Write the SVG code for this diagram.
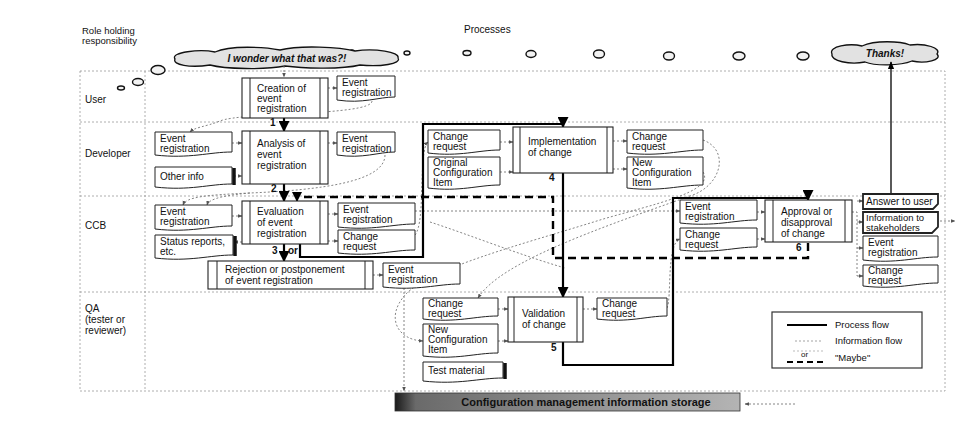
<svg xmlns="http://www.w3.org/2000/svg" width="960" height="426" viewBox="0 0 960 426">
<style>
text{font-family:"Liberation Sans",Arial,sans-serif;font-size:10px;fill:#111}
.lane{fill:none;stroke:#999;stroke-width:0.8;stroke-dasharray:2 2}
.doc{fill:#fff;stroke:#222;stroke-width:1}
.shadow{fill:none;stroke:#111;stroke-width:3.5}
.proc{fill:#fff;stroke:#222;stroke-width:1.1}
.inner{stroke:#222;stroke-width:1}
.pf{fill:none;stroke:#000;stroke-width:2.2}
.mb{fill:none;stroke:#000;stroke-width:2.4;stroke-dasharray:8 5}
.inf{fill:none;stroke:#777;stroke-width:0.9;stroke-dasharray:2 2}
.bub{fill:#f2f2f2;stroke:#111;stroke-width:1.4}
.cloud{fill:#e2e2e2;stroke:#111;stroke-width:1.3}
.it{font-style:italic;font-weight:bold}
.num{font-weight:bold}
</style>
<defs>
<marker id="ap" viewBox="0 0 10 10" refX="9" refY="5" markerWidth="5" markerHeight="5" orient="auto"><path d="M0,0 L10,5 L0,10 Z" fill="#000"/></marker>
<marker id="ai" viewBox="0 0 10 10" refX="9" refY="5" markerWidth="5" markerHeight="5" orient="auto"><path d="M0,1 L10,5 L0,9 Z" fill="#555"/></marker>
<marker id="at" viewBox="0 0 10 10" refX="9" refY="5" markerWidth="6" markerHeight="6" orient="auto"><path d="M0,1 L10,5 L0,9 Z" fill="#000"/></marker>
<linearGradient id="sg" x1="0" y1="0" x2="1" y2="0">
<stop offset="0" stop-color="#1a1a1a"/><stop offset="0.06" stop-color="#6a6a6a"/><stop offset="0.5" stop-color="#8e8e8e"/><stop offset="1" stop-color="#b4b4b4"/>
</linearGradient>
</defs>

<g id="headers">
<text x="82" y="34" style="font-size:9.5px">Role holding</text>
<text x="82" y="44" style="font-size:9.5px">responsibility</text>
<text x="464" y="33">Processes</text>
</g>

<g id="lanes">
<rect class="lane" x="80" y="71" width="865" height="320"/>
<line class="lane" x1="145" y1="71" x2="145" y2="391"/>
<line class="lane" x1="80" y1="122" x2="945" y2="122"/>
<line class="lane" x1="80" y1="196" x2="945" y2="196"/>
<line class="lane" x1="80" y1="292" x2="945" y2="292"/>
<text x="85" y="103">User</text>
<text x="85" y="157">Developer</text>
<text x="85" y="229">CCB</text>
<text x="85" y="312">QA</text>
<text x="85" y="323">(tester or</text>
<text x="85" y="334">reviewer)</text>
</g>

<g id="bubbles">
<ellipse class="bub" cx="158" cy="70" rx="7" ry="4.5"/>
<ellipse class="bub" cx="138" cy="82" rx="5.5" ry="3.5"/>
<ellipse class="bub" cx="121" cy="88" rx="3.5" ry="2"/>
<ellipse class="bub" cx="352" cy="52" rx="2.5" ry="2"/>
<ellipse class="bub" cx="407" cy="53" rx="3" ry="2"/>
<ellipse class="bub" cx="467" cy="53" rx="4" ry="2.5"/>
<ellipse class="bub" cx="531" cy="54" rx="5" ry="3.5"/>
<ellipse class="bub" cx="599" cy="54" rx="5.5" ry="4"/>
<ellipse class="bub" cx="669" cy="56" rx="5.5" ry="4"/>
<ellipse class="bub" cx="739" cy="56" rx="6" ry="4"/>
<ellipse class="bub" cx="803" cy="56" rx="6" ry="4"/>
</g>

<g id="cloud-wonder">
<path class="cloud" d="M175,59 C170,52 200,49 215,52 C230,45 265,47 280,50 C300,45 340,47 355,51 C375,48 400,52 398,58 C402,64 380,67 360,65 C340,70 300,68 285,66 C265,70 225,69 210,65 C190,68 172,65 175,59 Z"/>
<text class="it" x="287" y="62" text-anchor="middle">I wonder what that was?!</text>
</g>
<g id="cloud-thanks">
<path class="cloud" d="M832,54 C828,46 850,43 862,46 C875,40 900,41 910,45 C925,43 942,48 937,54 C943,60 925,64 912,61 C900,66 875,66 865,62 C850,65 830,61 832,54 Z"/>
<text class="it" x="885" y="57" text-anchor="middle">Thanks!</text>
</g>

<g id="connectors">
<path class="inf" marker-end="url(#ai)" d="M284,66 V77"/>
<path class="inf" marker-end="url(#ai)" d="M328,88 H337"/>
<path class="inf" marker-end="url(#ai)" d="M372,101 C372,116 240,112 220,121 C205,127 195,127 190,132"/>
<path class="inf" marker-end="url(#ai)" d="M232,143 H242"/>
<path class="inf" marker-end="url(#ai)" d="M234,176 H242"/>
<path class="inf" marker-end="url(#ai)" d="M328,143 H337"/>
<path class="inf" marker-end="url(#ai)" d="M385,155 C385,182 320,190 250,193 C205,195 186,197 183,205"/>
<path class="inf" marker-end="url(#ai)" d="M250,193 C228,195 209,198 207,205"/>
<path class="inf" marker-end="url(#ai)" d="M232,216 H242"/>
<path class="inf" marker-end="url(#ai)" d="M242,242 H234"/>
<path class="inf" marker-end="url(#ai)" d="M328,214 H338"/>
<path class="inf" marker-end="url(#ai)" d="M328,241 H338"/>
<path class="inf" marker-end="url(#ai)" d="M373,275 H383"/>
<path class="inf" marker-end="url(#ai)" d="M415,235 C426,222 418,150 428,142"/>
<path class="inf" marker-end="url(#ai)" d="M500,142 H513"/>
<path class="inf" marker-end="url(#ai)" d="M500,172 H513"/>
<path class="inf" marker-end="url(#ai)" d="M613,141 H627"/>
<path class="inf" marker-end="url(#ai)" d="M613,169 H627"/>
<path class="inf" marker-end="url(#ai)" d="M703,140 C730,150 722,186 690,196 C600,228 500,262 478,298"/>
<path class="inf" marker-end="url(#ai)" d="M703,172 C716,192 650,205 600,220 C520,245 430,268 405,295 C385,318 398,340 423,341"/>
<path class="inf" d="M430,222 C470,235 520,255 565,268"/>
<path class="inf" marker-end="url(#ai)" d="M404,288 V391"/>
<path class="inf" marker-end="url(#ai)" d="M498,309 H508"/>
<path class="inf" marker-end="url(#ai)" d="M498,341 H508"/>
<path class="inf" marker-end="url(#ai)" d="M583,309 H597"/>
<path class="inf" marker-end="url(#ai)" d="M415,211 H680"/>
<path class="inf" marker-end="url(#ai)" d="M667,308 C672,298 666,244 680,239"/>
<path class="inf" marker-end="url(#ai)" d="M757,212 H765"/>
<path class="inf" marker-end="url(#ai)" d="M757,239 H765"/>
<path class="inf" d="M852,212 H857 V276"/>
<path class="inf" marker-end="url(#ai)" d="M857,201 H863"/>
<path class="inf" marker-end="url(#ai)" d="M857,222 H863"/>
<path class="inf" marker-end="url(#ai)" d="M857,248 H863"/>
<path class="inf" marker-end="url(#ai)" d="M857,276 H863"/>
<path class="inf" marker-end="url(#ai)" d="M940,221 H955"/>
<path class="inf" marker-end="url(#ai)" d="M795,404 H745"/>
<path class="pf" marker-end="url(#ap)" d="M284,118 V131"/>
<path class="pf" marker-end="url(#ap)" d="M284,184 V201"/>
<path class="pf" marker-end="url(#ap)" d="M284,244 V261"/>
<path class="pf" marker-end="url(#ap)" d="M300,244 V257 H423 V124 H563 V127"/>
<path class="pf" marker-end="url(#ap)" d="M563,173 V297"/>
<path class="pf" marker-end="url(#ap)" d="M563,342 V365 H673 V198 H808 V200"/>
<path fill="none" stroke="#000" stroke-width="1.3" marker-end="url(#at)" d="M891,194 V62"/>
<path class="mb" d="M808,243 V258 H553 V197 H299"/>
<path fill="none" stroke="#000" stroke-width="2" marker-end="url(#ap)" d="M297,197 V201"/>
<text class="num" x="270" y="126">1</text>
<text class="num" x="271" y="192">2</text>
<text class="num" x="272" y="254">3</text>
<text class="num" x="288" y="254">or</text>
<text class="num" x="549" y="181">4</text>
<text class="num" x="551" y="351">5</text>
<text class="num" x="796" y="251">6</text>
</g>

<g id="p-creation">
<rect class="proc" x="242" y="78" width="86" height="40"/>
<line class="inner" x1="250" y1="78" x2="250" y2="118"/><line class="inner" x1="320" y1="78" x2="320" y2="118"/>
<text x="257" y="92">Creation of</text><text x="257" y="102">event</text><text x="257" y="112">registration</text>
</g>
<g id="p-analysis">
<rect class="proc" x="242" y="131" width="86" height="53"/>
<line class="inner" x1="250" y1="131" x2="250" y2="184"/><line class="inner" x1="320" y1="131" x2="320" y2="184"/>
<text x="257" y="147">Analysis of</text><text x="257" y="158">event</text><text x="257" y="169">registration</text>
</g>
<g id="p-evaluation">
<rect class="proc" x="242" y="201" width="86" height="43"/>
<line class="inner" x1="250" y1="201" x2="250" y2="244"/><line class="inner" x1="320" y1="201" x2="320" y2="244"/>
<text x="257" y="215">Evaluation</text><text x="257" y="226">of event</text><text x="257" y="237">registration</text>
</g>
<g id="p-rejection">
<rect class="proc" x="208" y="261" width="165" height="28"/>
<line class="inner" x1="217" y1="261" x2="217" y2="289"/><line class="inner" x1="365" y1="261" x2="365" y2="289"/>
<text x="225" y="273">Rejection or postponement</text><text x="225" y="284">of event registration</text>
</g>
<g id="p-implementation">
<rect class="proc" x="513" y="127" width="100" height="46"/>
<line class="inner" x1="520" y1="127" x2="520" y2="173"/><line class="inner" x1="607" y1="127" x2="607" y2="173"/>
<text x="528" y="145">Implementation</text><text x="528" y="156">of change</text>
</g>
<g id="p-validation">
<rect class="proc" x="508" y="297" width="75" height="45"/>
<line class="inner" x1="514" y1="297" x2="514" y2="342"/><line class="inner" x1="577" y1="297" x2="577" y2="342"/>
<text x="522" y="317">Validation</text><text x="522" y="328">of change</text>
</g>
<g id="p-approval">
<rect class="proc" x="765" y="200" width="87" height="42"/>
<line class="inner" x1="773" y1="200" x2="773" y2="242"/><line class="inner" x1="845" y1="200" x2="845" y2="242"/>
<text x="781" y="215">Approval or</text><text x="781" y="226">disapproval</text><text x="781" y="237">of change</text>
</g>

<g id="d-user-er"><path class="doc" d="M337,76 H395 V97 C378,97 363,104 337,100 Z"/><text x="342" y="86">Event</text><text x="342" y="96">registration</text></g>
<g id="d-dev-er-in"><path class="doc" d="M155,132 H232 V152 C209,152 190,159 155,155 Z"/><text x="160" y="142">Event</text><text x="160" y="152">registration</text></g>
<g id="d-dev-other"><path class="doc" d="M155,167 H232 V184 C209,184 190,191 155,187 Z"/><path class="shadow" d="M234,168 V185"/><text x="160" y="180">Other info</text></g>
<g id="d-dev-er-out"><path class="doc" d="M337,132 H395 V152 C378,152 363,159 337,155 Z"/><text x="342" y="142">Event</text><text x="342" y="152">registration</text></g>
<g id="d-ccb-er-in"><path class="doc" d="M155,205 H232 V226 C209,226 190,233 155,229 Z"/><text x="160" y="215">Event</text><text x="160" y="225">registration</text></g>
<g id="d-ccb-status"><path class="doc" d="M155,235 H233 V255 C210,255 190,262 155,258 Z"/><path class="shadow" d="M235,236 V256"/><text x="160" y="245">Status reports,</text><text x="160" y="255">etc.</text></g>
<g id="d-ccb-er-out"><path class="doc" d="M338,203 H415 V224 C392,224 373,231 338,227 Z"/><text x="343" y="213">Event</text><text x="343" y="223">registration</text></g>
<g id="d-ccb-cr-out"><path class="doc" d="M338,230 H415 V250 C392,250 373,257 338,253 Z"/><text x="343" y="240">Change</text><text x="343" y="250">request</text></g>
<g id="d-rej-er"><path class="doc" d="M383,263 H460 V284 C437,284 418,291 383,287 Z"/><text x="388" y="273">Event</text><text x="388" y="283">registration</text></g>
<g id="d-impl-cr-in"><path class="doc" d="M428,130 H500 V150 C478,150 460,157 428,153 Z"/><text x="433" y="140">Change</text><text x="433" y="150">request</text></g>
<g id="d-impl-ci-in"><path class="doc" d="M428,157 H500 V185 C478,185 460,192 428,188 Z"/><text x="433" y="166">Original</text><text x="433" y="176">Configuration</text><text x="433" y="186">Item</text></g>
<g id="d-impl-cr-out"><path class="doc" d="M627,130 H703 V150 C680,150 661,157 627,153 Z"/><text x="632" y="140">Change</text><text x="632" y="150">request</text></g>
<g id="d-impl-ci-out"><path class="doc" d="M627,157 H703 V185 C680,185 661,192 627,188 Z"/><text x="632" y="166">New</text><text x="632" y="176">Configuration</text><text x="632" y="186">Item</text></g>
<g id="d-qa-cr-in"><path class="doc" d="M423,298 H498 V316 C475,316 457,323 423,319 Z"/><text x="428" y="307">Change</text><text x="428" y="317">request</text></g>
<g id="d-qa-ci-in"><path class="doc" d="M423,324 H498 V353 C475,353 457,360 423,356 Z"/><text x="428" y="333">New</text><text x="428" y="343">Configuration</text><text x="428" y="353">Item</text></g>
<g id="d-qa-test"><path class="doc" d="M423,362 H503 V378 C479,378 459,385 423,381 Z"/><path class="shadow" d="M505,363 V379"/><text x="428" y="374">Test material</text></g>
<g id="d-qa-cr-out"><path class="doc" d="M597,298 H667 V316 C646,316 629,323 597,319 Z"/><text x="602" y="307">Change</text><text x="602" y="317">request</text></g>
<g id="d-app-er-in"><path class="doc" d="M680,200 H757 V220 C734,220 715,227 680,223 Z"/><text x="685" y="210">Event</text><text x="685" y="220">registration</text></g>
<g id="d-app-cr-in"><path class="doc" d="M680,228 H757 V247 C734,247 715,254 680,250 Z"/><text x="685" y="238">Change</text><text x="685" y="248">request</text></g>
<g id="d-answer"><path class="doc" style="stroke-width:1.8" d="M863,194 H938 V204 L933,209 H863 Z"/><text x="866" y="205">Answer to user</text></g>
<g id="d-info"><path class="doc" style="stroke-width:1.8" d="M863,212 H938 V227 L932,233 H863 Z"/><text x="866" y="221" style="font-size:9.5px">Information to</text><text x="866" y="231" style="font-size:9.5px">stakeholders</text></g>
<g id="d-app-er-out"><path class="doc" d="M863,236 H938 V257 C915,257 897,264 863,260 Z"/><text x="868" y="246">Event</text><text x="868" y="256">registration</text></g>
<g id="d-app-cr-out"><path class="doc" d="M863,265 H938 V283 C915,283 897,290 863,286 Z"/><text x="868" y="274">Change</text><text x="868" y="284">request</text></g>

<g id="storage">
<rect x="395" y="393" width="345" height="18" fill="url(#sg)" stroke="#333" stroke-width="0.8"/>
<text x="586" y="406" text-anchor="middle" style="font-weight:bold;font-size:11px">Configuration management information storage</text>
</g>

<g id="legend">
<rect x="772" y="312" width="150" height="56" fill="#fff" stroke="#333" stroke-width="1.2"/>
<line x1="787" y1="325" x2="827" y2="325" stroke="#000" stroke-width="2"/>
<text x="835" y="328" style="font-size:9.5px">Process flow</text>
<line x1="795" y1="341" x2="822" y2="341" stroke="#999" stroke-width="0.9" stroke-dasharray="2 2"/>
<text x="835" y="344" style="font-size:9.5px">Information flow</text>
<line x1="793" y1="351" x2="823" y2="351" stroke="#aaa" stroke-width="0.8" stroke-dasharray="2 2"/>
<text x="801" y="357" style="font-size:8px">or</text>
<line x1="787" y1="362" x2="827" y2="362" stroke="#000" stroke-width="2.2" stroke-dasharray="6 4"/>
<text x="835" y="361" style="font-size:9.5px">"Maybe"</text>
</g>
</svg>
